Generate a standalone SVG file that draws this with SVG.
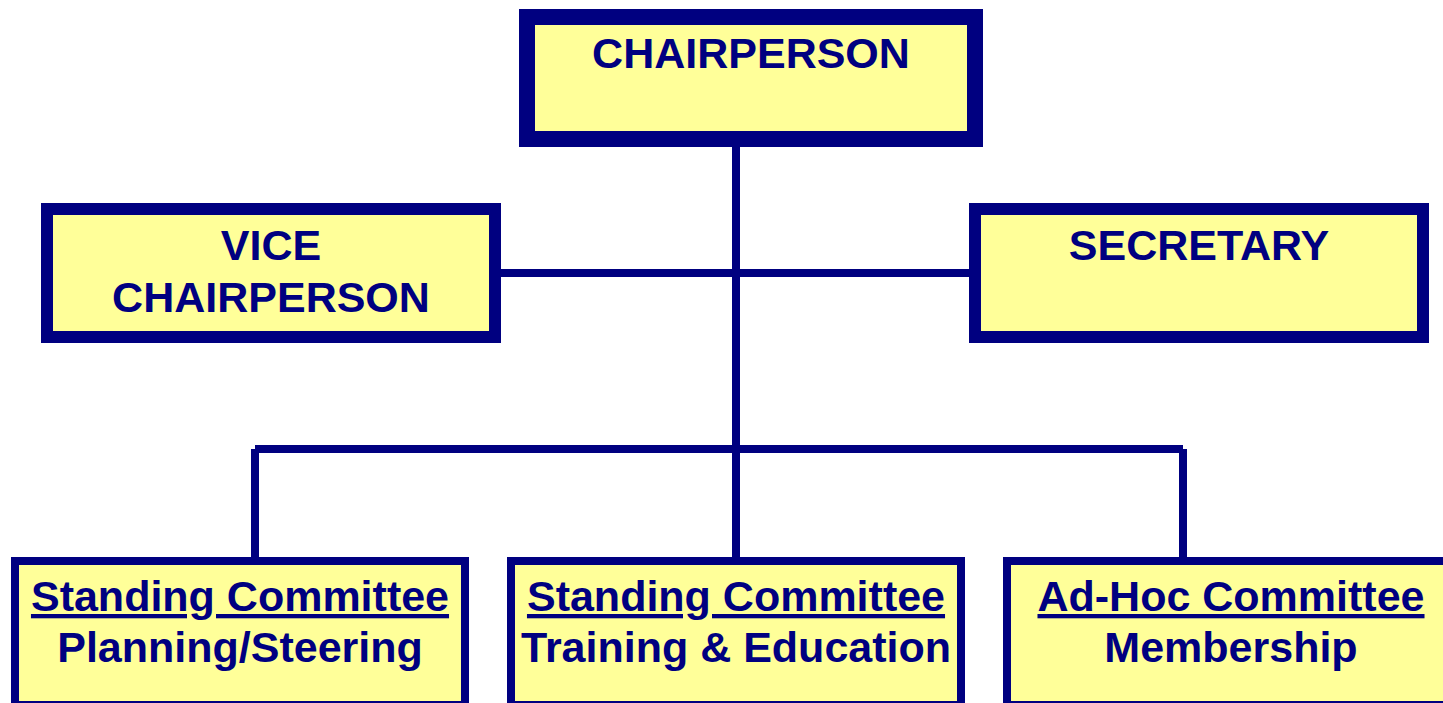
<svg xmlns="http://www.w3.org/2000/svg" width="1443" height="703" viewBox="0 0 1443 703">
<style>
.box{fill:#FFFF99;stroke:#000080}
.t{font-family:"Liberation Sans",Arial,sans-serif;font-weight:bold;font-size:43px;fill:#000080;text-anchor:middle}
.c{stroke:#000080;stroke-width:8;fill:none;stroke-linecap:butt}
</style>
<rect width="1443" height="703" fill="#FFFFFF"/>
<g id="connectors">
<line class="c" x1="736" y1="146" x2="736" y2="557"/>
<line class="c" x1="495" y1="273" x2="975" y2="273"/>
<line class="c" x1="255" y1="449" x2="1183" y2="449"/>
<line class="c" x1="255" y1="449" x2="255" y2="557"/>
<line class="c" x1="1183" y1="449" x2="1183" y2="557"/>
</g>
<g id="chairperson">
<rect class="box" x="527" y="17" width="448" height="122" stroke-width="16"/>
<text class="t" x="751" y="68">CHAIRPERSON</text>
</g>
<g id="vice-chairperson">
<rect class="box" x="47" y="209" width="448" height="128" stroke-width="12"/>
<text class="t" x="271" y="260">VICE</text>
<text class="t" x="271" y="312">CHAIRPERSON</text>
</g>
<g id="secretary">
<rect class="box" x="975" y="209" width="448" height="128" stroke-width="12"/>
<text class="t" x="1199" y="260">SECRETARY</text>
</g>
<g id="planning-steering">
<rect class="box" x="15" y="561" width="450" height="144" stroke-width="8"/>
<text class="t" x="240" y="611" text-decoration="underline">Standing Committee</text>
<text class="t" x="240" y="662">Planning/Steering</text>
</g>
<g id="training-education">
<rect class="box" x="511" y="561" width="450" height="144" stroke-width="8"/>
<text class="t" x="736" y="611" text-decoration="underline">Standing Committee</text>
<text class="t" x="736" y="662">Training &amp; Education</text>
</g>
<g id="membership">
<rect class="box" x="1007" y="561" width="450" height="144" stroke-width="8"/>
<text class="t" x="1231" y="611" text-decoration="underline">Ad-Hoc Committee</text>
<text class="t" x="1231" y="662">Membership</text>
</g>
</svg>
